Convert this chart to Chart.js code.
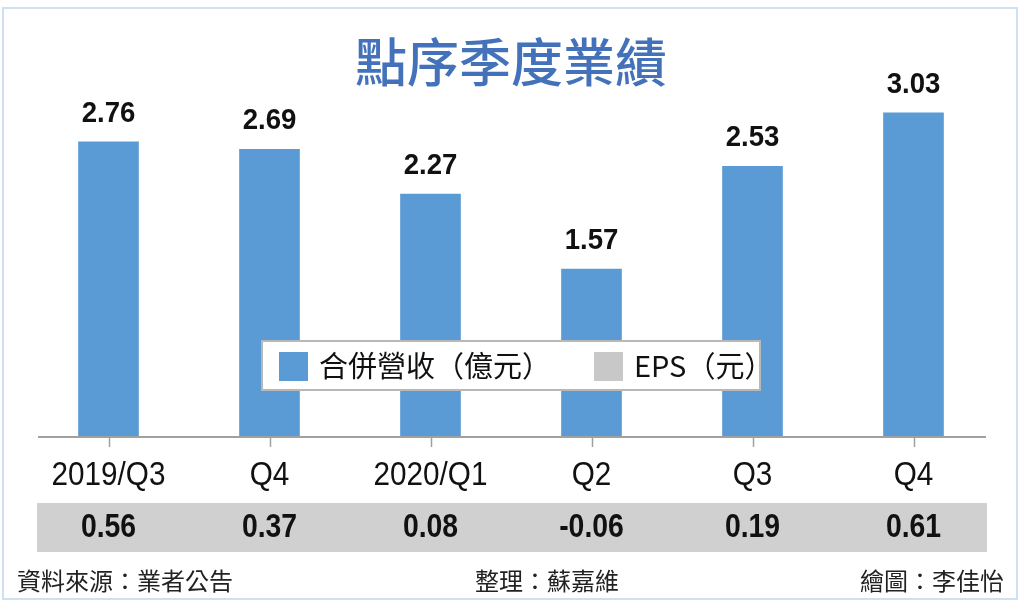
<!DOCTYPE html>
<html>
<head>
<meta charset="utf-8">
<script src="https://cdn.jsdelivr.net/npm/chart.js@4/dist/chart.umd.min.js"></script>
<style>
html,body{margin:0;padding:0;background:#fff;}
#wrap{width:1024px;height:609px;position:relative;}
canvas{display:block;}
</style>
</head>
<body>
<div id="wrap"><canvas id="c" width="1024" height="609"></canvas></div>
<script>
const title = "點序季度業績";
const categories = ["2019/Q3", "Q4", "2020/Q1", "Q2", "Q3", "Q4"];
const revenue = [2.76, 2.69, 2.27, 1.57, 2.53, 3.03];
const eps = [0.56, 0.37, 0.08, -0.06, 0.19, 0.61];
const revenueLabel = "合併營收(億元)";
const epsLabel = "EPS(元)";
const footerLeft = "資料來源：業者公告";
const footerMid = "整理：蘇嘉維";
const footerRight = "繪圖：李佳怡";

const BLUE = "#5b9bd5";
const GRAY = "#d0d0d0";
const CJK = '"Noto Sans CJK TC", "Noto Sans CJK SC", sans-serif';
const NUM = '"Liberation Sans", Arial, sans-serif';

function condText(ctx, txt, x, y, sx) {
  ctx.save();
  ctx.translate(x, y);
  ctx.scale(sx, 1);
  ctx.fillText(txt, 0, 0);
  ctx.restore();
}

const decor = {
  id: "decor",
  beforeDraw(chart) {
    const ctx = chart.ctx;
    ctx.save();
    ctx.fillStyle = "#fff";
    ctx.fillRect(0, 0, chart.width, chart.height);
    ctx.strokeStyle = "#cfe0f1";
    ctx.lineWidth = 2;
    ctx.strokeRect(3, 8, 1014, 591);
    ctx.restore();
  },
  afterDraw(chart) {
    const ctx = chart.ctx;
    const xs = chart.scales.x;
    const meta = chart.getDatasetMeta(0);
    const baseY = chart.chartArea.bottom;
    ctx.save();
    // title
    ctx.fillStyle = "#4372ba";
    ctx.font = "500 52px " + CJK;
    ctx.textAlign = "center";
    ctx.textBaseline = "middle";
    ctx.fillText(title, 511, 62);

    // value labels above bars
    ctx.fillStyle = "#111";
    ctx.font = "bold 30px " + NUM;
    ctx.textAlign = "center";
    ctx.textBaseline = "alphabetic";
    meta.data.forEach((bar, i) => {
      condText(ctx, revenue[i].toFixed(2), bar.x, bar.y - 20, 0.92);
    });

    // axis line and ticks
    ctx.strokeStyle = "#a0a0a0";
    ctx.lineWidth = 2;
    ctx.beginPath();
    ctx.moveTo(38, baseY);
    ctx.lineTo(986, baseY);
    ctx.stroke();
    ctx.lineWidth = 1.5;
    categories.forEach((c, i) => {
      const x = Math.round(xs.getPixelForValue(i)) + 0.5;
      ctx.beginPath();
      ctx.moveTo(x, baseY);
      ctx.lineTo(x, baseY + 10);
      ctx.stroke();
    });

    // category labels
    ctx.fillStyle = "#111";
    ctx.font = "33px " + NUM;
    ctx.textAlign = "center";
    ctx.textBaseline = "middle";
    categories.forEach((c, i) => {
      condText(ctx, c, xs.getPixelForValue(i), 476, 0.9);
    });

    // EPS band
    ctx.fillStyle = GRAY;
    ctx.fillRect(37, 503, 950, 49);
    ctx.fillStyle = "#111";
    ctx.font = "bold 33px " + NUM;
    eps.forEach((v, i) => {
      condText(ctx, v.toFixed(2), xs.getPixelForValue(i), 528, 0.86);
    });

    // legend
    ctx.fillStyle = "#fff";
    ctx.fillRect(262, 341, 498, 49);
    ctx.strokeStyle = "#b8b8b8";
    ctx.lineWidth = 2;
    ctx.strokeRect(262, 341, 498, 49);
    ctx.fillStyle = chart.data.datasets[0].backgroundColor;
    ctx.fillRect(279, 352, 29, 29);
    ctx.fillStyle = "#c8c8c8";
    ctx.fillRect(594, 352, 29, 29);
    ctx.fillStyle = "#111";
    ctx.font = "29px " + CJK;
    ctx.textAlign = "left";
    ctx.textBaseline = "middle";
    ctx.fillText(revenueLabel.replace("(", "（").replace(")", "）"), 319, 366);
    ctx.fillText(epsLabel.replace("(", "（").replace(")", "）"), 634, 366);

    // footer
    ctx.fillStyle = "#222";
    ctx.font = "24px " + CJK;
    ctx.textBaseline = "middle";
    ctx.textAlign = "left";
    ctx.fillText(footerLeft, 17, 581);
    ctx.textAlign = "center";
    ctx.fillText(footerMid, 547, 581);
    ctx.textAlign = "right";
    ctx.fillText(footerRight, 1004, 581);
    ctx.restore();
  }
};

new Chart(document.getElementById("c"), {
  type: "bar",
  data: {
    labels: categories,
    datasets: [{
      label: revenueLabel,
      data: revenue,
      backgroundColor: BLUE,
      borderWidth: 0,
      barThickness: 60
    }]
  },
  options: {
    responsive: false,
    animation: false,
    devicePixelRatio: 1,
    layout: { padding: { left: 28, right: 30, top: 100, bottom: 172 } },
    plugins: { legend: { display: false }, title: { display: false }, tooltip: { enabled: false } },
    scales: {
      x: { display: false, offset: true },
      y: { display: false, min: 0, max: 3.15 }
    }
  },
  plugins: [decor]
});
</script>
</body>
</html>
